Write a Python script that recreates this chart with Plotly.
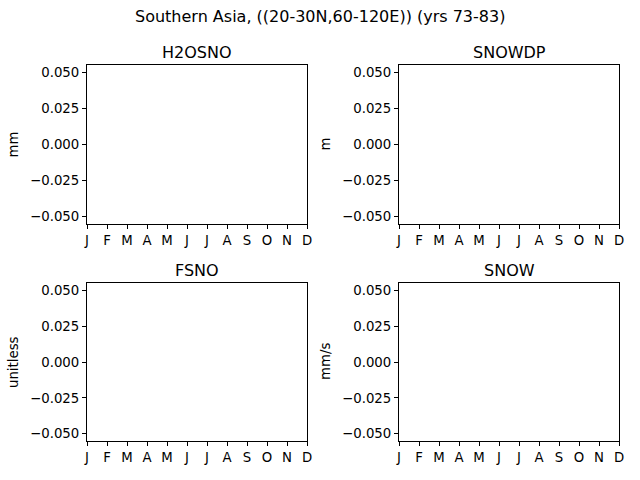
import plotly.graph_objects as go

# month labels on the x axis
months = ['J', 'F', 'M', 'A', 'M', 'J', 'J', 'A', 'S', 'O', 'N', 'D']
month_idx = list(range(12))

# variables, units and their monthly climatology (no snow in the region -> missing)
variables = ['H2OSNO', 'SNOWDP', 'FSNO', 'SNOW']
units = ['mm', 'm', 'unitless', 'mm/s']
h2osno = [None] * 12
snowdp = [None] * 12
fsno = [None] * 12
snow = [None] * 12
series = [h2osno, snowdp, fsno, snow]

y_ticks = [-0.05, -0.025, 0.0, 0.025, 0.05]

W, H = 640, 480
# axes boxes in pixels (left, right, top, bottom)
boxes = [(87, 307, 65, 224), (399, 619, 65, 224),
         (87, 307, 283, 441), (399, 619, 283, 441)]

fig = go.Figure()
font = dict(family='DejaVu Sans', size=13.3, color='black')
annotations = []

for i, (name, unit, vals, box) in enumerate(zip(variables, units, series, boxes)):
    n = '' if i == 0 else str(i + 1)
    l, r, t, b = box
    fig.add_trace(go.Scatter(x=month_idx, y=vals, mode='lines',
                             line=dict(color='#1f77b4', width=2),
                             xaxis='x' + n, yaxis='y' + n, showlegend=False))
    axis_common = dict(showline=True, mirror=True, linecolor='black', linewidth=1.1,
                       ticks='outside', ticklen=4, tickwidth=1.1, tickcolor='black',
                       showgrid=False, zeroline=False, tickfont=font, automargin=False)
    fig.layout['xaxis' + n] = dict(axis_common, domain=[l / W, r / W],
                                   anchor='y' + n, range=[0, 11],
                                   tickvals=month_idx, ticktext=months)
    fig.layout['yaxis' + n] = dict(axis_common, domain=[1 - b / H, 1 - t / H],
                                   anchor='x' + n, range=[-0.055, 0.055],
                                   tickvals=y_ticks, tickformat='.3f')
    annotations.append(dict(text=name, x=(l + r) / 2 / W, y=1 - (t - 13) / H,
                            xref='paper', yref='paper', xanchor='center',
                            yanchor='middle', showarrow=False,
                            font=dict(family='DejaVu Sans', size=16, color='black')))
    annotations.append(dict(text=unit, x=(l - 74) / W, y=1 - (t + b) / 2 / H,
                            xref='paper', yref='paper', xanchor='center',
                            yanchor='middle', textangle=-90, showarrow=False,
                            font=font))

annotations.append(dict(text='Southern Asia, ((20-30N,60-120E)) (yrs 73-83)',
                        x=0.5, y=1 - 17 / H, xref='paper', yref='paper',
                        xanchor='center', yanchor='middle', showarrow=False,
                        font=dict(family='DejaVu Sans', size=16, color='black')))

fig.update_layout(width=W, height=H, margin=dict(l=0, r=0, t=0, b=0),
                  plot_bgcolor='white', paper_bgcolor='white',
                  annotations=annotations)

# drop the default body margin so the figure sits at the window's corner
fig.write_html("out.html", config={'displayModeBar': False},
               post_script="document.body.style.margin='0';")
